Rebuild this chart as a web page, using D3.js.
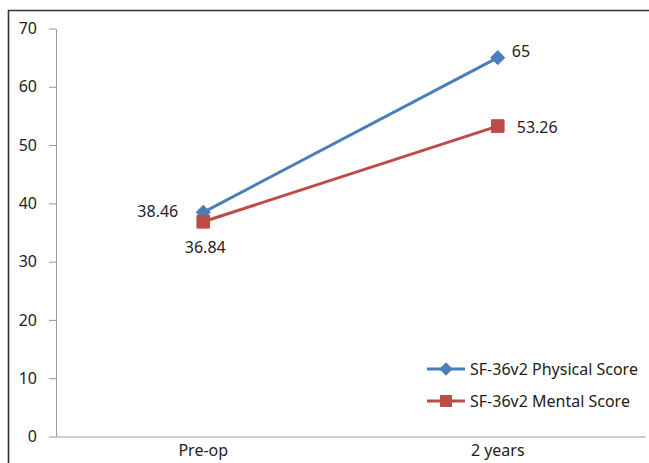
<!DOCTYPE html>
<html>
<head>
<meta charset="utf-8">
<script src="https://cdn.jsdelivr.net/npm/d3@7"></script>
<style>
  html, body { margin: 0; padding: 0; background: #fff; }
  svg text { font-family: "Noto Sans", "Open Sans", sans-serif; fill: #222; }
</style>
</head>
<body>
<svg id="chart" width="649" height="463"></svg>
<script>
// Time points and SF-36v2 scores
const categories = ["Pre-op", "2 years"];
const physicalScores = [38.46, 65];
const mentalScores = [36.84, 53.26];
const seriesNames = ["SF-36v2 Physical Score", "SF-36v2 Mental Score"];
const yTicks = [0, 10, 20, 30, 40, 50, 60, 70];

const svg = d3.select("#chart");
const margin = { left: 56, right: 4, top: 28.5, bottom: 26.5 };
const W = 649, H = 463;

// outer frame (left and top edges visible)
svg.append("path")
  .attr("d", `M8.5,${H} V10.5 H${W}`)
  .attr("fill", "none").attr("stroke", "#333").attr("stroke-width", 1.6);

const x = d3.scaleBand().domain(categories)
  .range([margin.left, W - margin.right]);
const y = d3.scaleLinear().domain([0, 70])
  .range([H - margin.bottom, margin.top]);

// y axis
const yAxis = svg.append("g")
  .attr("transform", `translate(${margin.left},0)`)
  .call(d3.axisLeft(y).tickValues(yTicks).tickSize(7).tickPadding(12).tickSizeOuter(0));
yAxis.select(".domain").attr("stroke", "#999");
yAxis.selectAll(".tick line").attr("stroke", "#999");
yAxis.selectAll("text").style("font-size", "16px").attr("fill", "#222")
  .style("font-family", "'Noto Sans', sans-serif");

// x axis
const xAxis = svg.append("g")
  .attr("transform", `translate(0,${y(0)})`)
  .call(d3.axisBottom(x).tickSize(0).tickPadding(8));
xAxis.select(".domain").attr("stroke", "#999");
xAxis.selectAll("text").style("font-size", "16px").attr("fill", "#222")
  .style("font-family", "'Noto Sans', sans-serif");

const cx = c => x(c) + x.bandwidth() / 2;

// square turned 45 degrees, same width and height
const diamond = {
  draw(ctx, size) {
    const r = Math.sqrt(size / 2);
    ctx.moveTo(0, -r); ctx.lineTo(r, 0); ctx.lineTo(0, r); ctx.lineTo(-r, 0); ctx.closePath();
  }
};

const series = [
  { name: seriesNames[0], values: physicalScores, color: "#4a7ebb", marker: diamond, size: 100 },
  { name: seriesNames[1], values: mentalScores, color: "#be4b48", marker: d3.symbolSquare, size: 160 }
];

const line = d3.line().x((d, i) => cx(categories[i])).y(d => y(d));

series.forEach(s => {
  svg.append("path").datum(s.values)
    .attr("d", line).attr("fill", "none")
    .attr("stroke", s.color).attr("stroke-width", 3);
});

series.forEach(s => {
  svg.selectAll(null).data(s.values).enter().append("path")
    .attr("d", d3.symbol().type(s.marker).size(s.size))
    .attr("transform", (d, i) => `translate(${cx(categories[i])},${y(d)})`)
    .attr("fill", s.color).attr("stroke", s.color).attr("stroke-width", 1);
});

// data labels
const lbl = (txt, xx, yy, anchor) => svg.append("text").text(txt)
  .attr("x", xx).attr("y", yy).attr("text-anchor", anchor)
  .attr("dominant-baseline", "central").style("font-size", "16px");

lbl(physicalScores[0], cx(categories[0]) - 25, y(physicalScores[0]) - 1, "end");
lbl(mentalScores[0], cx(categories[0]) + 2, y(mentalScores[0]) + 25, "middle");
lbl(physicalScores[1], cx(categories[1]) + 14, y(physicalScores[1]) - 7, "start");
lbl(mentalScores[1], cx(categories[1]) + 19, y(mentalScores[1]) + 1, "start");

// legend
const legend = svg.append("g").attr("transform", "translate(427,369)");
series.forEach((s, i) => {
  const g = legend.append("g").attr("transform", `translate(0,${i * 32})`);
  g.append("line").attr("x1", 0).attr("x2", 38).attr("y1", 0).attr("y2", 0)
    .attr("stroke", s.color).attr("stroke-width", 3);
  g.append("path")
    .attr("d", d3.symbol().type(s.marker).size(s.size * 0.9))
    .attr("transform", "translate(19,0)").attr("fill", s.color);
  g.append("text").text(s.name).attr("x", 43).attr("y", 0)
    .attr("dominant-baseline", "central").style("font-size", "16px");
});
</script>
</body>
</html>
